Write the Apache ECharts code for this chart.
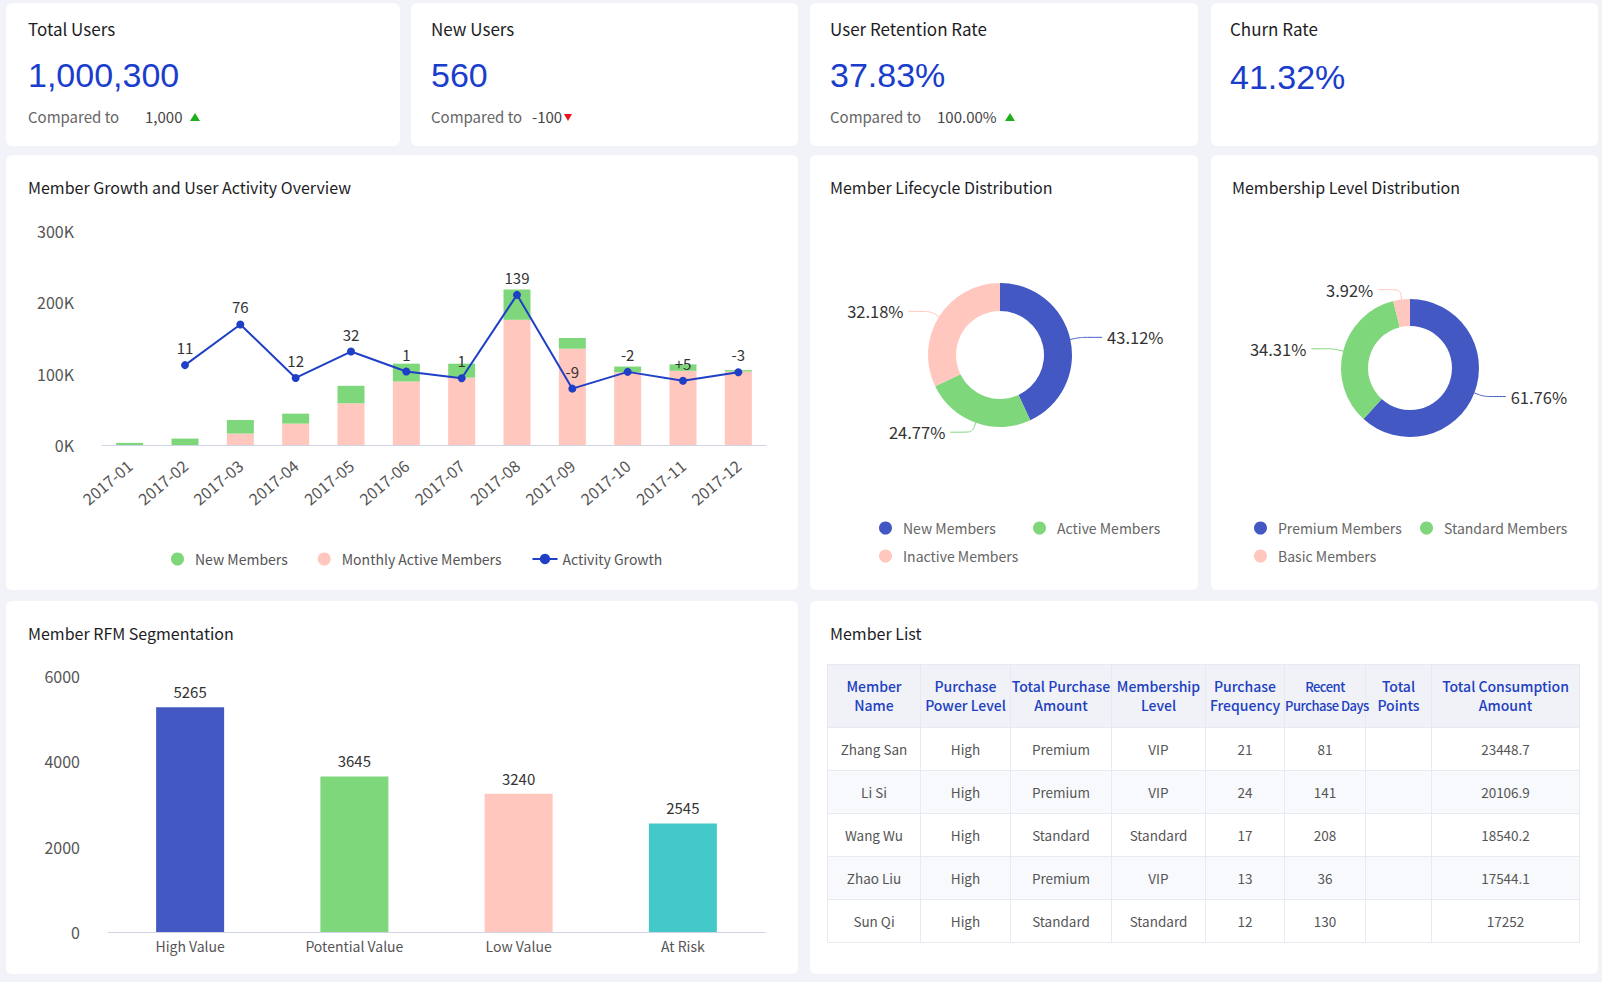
<!DOCTYPE html>
<html>
<head>
<meta charset="utf-8">
<title>Member Dashboard</title>
<script src="https://cdn.jsdelivr.net/npm/echarts/dist/echarts.min.js"></script>
<style>
  html, body { margin: 0; padding: 0; }
  body {
    width: 1602px; height: 982px; overflow: hidden;
    background: #f1f3f8;
    font-family: "Noto Sans CJK SC", "Noto Sans", sans-serif;
    position: relative;
  }
  .card { position: absolute; background: #fff; border-radius: 6px; }
  .title { position: absolute; left: 22px; top: 22px; font-size: 16px; line-height: 20px; color: #1d1d1f; }
  .chart { position: absolute; left: 0; top: 0; width: 100%; height: 100%; }
  .kpi .title { top: 16px; font-size: 17px; }
  .kpi .num {
    position: absolute; left: 22px; top: 51px;
    font-family: "Liberation Sans", Arial, sans-serif; font-size: 34px; line-height: 42px;
    color: #1a3dcc;
  }
  .kpi .cmp { position: absolute; left: 22px; top: 104px; font-size: 15px; line-height: 20px; color: #666; }
  .kpi .cv { position: absolute; top: 104px; font-size: 15px; line-height: 20px; color: #444; white-space: nowrap; }
  .up, .down { display: inline-block; width: 0; height: 0; vertical-align: 2px; }
  .up { border-left: 5px solid transparent; border-right: 5px solid transparent; border-bottom: 8px solid #1cb01c; margin-left: 8px; }
  .down { border-left: 4px solid transparent; border-right: 4px solid transparent; border-top: 7px solid #e8141b; margin-left: 2px; }
  table {
    position: absolute; left: 17px; top: 63px; width: 752px;
    border-collapse: collapse; table-layout: fixed;
    font-size: 13.5px; color: #555;
  }
  th, td { border: 1px solid #e8eaf1; text-align: center; padding: 0; }
  th { background: #f0f2f8; color: #2140c0; font-weight: 500; height: 62px; line-height: 19px; font-size: 14px; }
  td { height: 42px; }
  tbody tr:nth-child(even) td { background: #f8f9fc; }
  th.tight { font-size: 13px; letter-spacing: -0.5px; white-space: nowrap; }
</style>
</head>
<body>

<div class="card kpi" style="left:6px; top:3px; width:394px; height:143px;">
  <div class="title">Total Users</div>
  <div class="num">1,000,300</div>
  <div class="cmp">Compared to</div>
  <div class="cv" style="left:139px;">1,000<i class="up"></i></div>
</div>
<div class="card kpi" style="left:411px; top:3px; width:387px; height:143px;">
  <div class="title" style="left:20px;">New Users</div>
  <div class="num" style="left:20px;">560</div>
  <div class="cmp" style="left:20px;">Compared to</div>
  <div class="cv" style="left:121px;">-100<i class="down"></i></div>
</div>
<div class="card kpi" style="left:810px; top:3px; width:388px; height:143px;">
  <div class="title" style="left:20px;">User Retention Rate</div>
  <div class="num" style="left:20px;">37.83%</div>
  <div class="cmp" style="left:20px;">Compared to</div>
  <div class="cv" style="left:127px;">100.00%<i class="up"></i></div>
</div>
<div class="card kpi" style="left:1211px; top:3px; width:387px; height:143px;">
  <div class="title" style="left:19px;">Churn Rate</div>
  <div class="num" style="left:19px; top:53px;">41.32%</div>
</div>

<div class="card" style="left:6px; top:155px; width:792px; height:435px;">
  <div id="growth" class="chart"></div>
  <div class="title">Member Growth and User Activity Overview</div>
</div>
<div class="card" style="left:810px; top:155px; width:388px; height:435px;">
  <div id="lifecycle" class="chart"></div>
  <div class="title" style="left:20px;">Member Lifecycle Distribution</div>
</div>
<div class="card" style="left:1211px; top:155px; width:387px; height:435px;">
  <div id="level" class="chart"></div>
  <div class="title" style="left:21px;">Membership Level Distribution</div>
</div>

<div class="card" style="left:6px; top:601px; width:792px; height:373px;">
  <div id="rfm" class="chart"></div>
  <div class="title">Member RFM Segmentation</div>
</div>
<div class="card" style="left:810px; top:601px; width:788px; height:373px;">
  <div class="title" style="left:20px;">Member List</div>
  <table id="memberTable">
    <colgroup>
      <col style="width:93px"><col style="width:90px"><col style="width:101px"><col style="width:94px">
      <col style="width:79px"><col style="width:81px"><col style="width:66px"><col style="width:148px">
    </colgroup>
    <thead><tr id="tableHead"></tr></thead>
    <tbody id="tableBody"></tbody>
  </table>
</div>

<script>
// growth chart
var months = ['2017-01', '2017-02', '2017-03', '2017-04', '2017-05', '2017-06',
  '2017-07', '2017-08', '2017-09', '2017-10', '2017-11', '2017-12'];
var monthlyActive = [0, 0, 16000, 30000, 58500, 89000, 94500, 175500, 135000, 102000, 104000, 103000];
var newMembers = [3000, 9000, 19000, 14000, 24500, 25000, 19500, 42500, 15000, 8000, 9000, 2000];
var growthValues = [null, 112000, 169000, 94000, 131000, 103000, 93500, 210500, 79000, 102500, 90000, 102000];
var growthLabels = ['', '11', '76', '12', '32', '1', '1', '139', '-9', '-2', '+5', '-3'];
var growthTicks = [0, 100000, 200000, 300000];

// pies
var lifecycleNames = ['New Members', 'Active Members', 'Inactive Members'];
var lifecycleValues = [43.12, 24.77, 32.18];
var levelNames = ['Premium Members', 'Standard Members', 'Basic Members'];
var levelValues = [61.76, 34.31, 3.92];

// rfm
var rfmNames = ['High Value', 'Potential Value', 'Low Value', 'At Risk'];
var rfmValues = [5265, 3645, 3240, 2545];
var rfmTicks = [0, 2000, 4000, 6000];

// member list
var tableHeaders = ['Member<br>Name', 'Purchase<br>Power Level', 'Total Purchase<br>Amount', 'Membership<br>Level',
  'Purchase<br>Frequency', 'Recent<br>Purchase Days', 'Total<br>Points', 'Total Consumption<br>Amount'];
var memberNames = ['Zhang San', 'Li Si', 'Wang Wu', 'Zhao Liu', 'Sun Qi'];
var powerLevels = ['High', 'High', 'High', 'High', 'High'];
var purchaseAmounts = ['Premium', 'Premium', 'Standard', 'Premium', 'Standard'];
var memberLevels = ['VIP', 'VIP', 'Standard', 'VIP', 'Standard'];
var frequencies = [21, 24, 17, 13, 12];
var recentDays = [81, 141, 208, 36, 130];
var totalPoints = ['', '', '', '', ''];
var consumption = ['23448.7', '20106.9', '18540.2', '17544.1', '17252'];

var BLUE = '#4358c3', GREEN = '#7fd77c', PINK = '#ffc7bd', TEAL = '#45c9c8';
var FONT = '"Noto Sans CJK SC", "Noto Sans", sans-serif';
var AXIS = '#cfd5e2';

// table
var head = document.getElementById('tableHead');
tableHeaders.forEach(function (h, i) {
  var th = document.createElement('th');
  th.innerHTML = h;
  if (i === 5) th.className = 'tight';
  head.appendChild(th);
});
var body = document.getElementById('tableBody');
memberNames.forEach(function (n, i) {
  var tr = document.createElement('tr');
  [n, powerLevels[i], purchaseAmounts[i], memberLevels[i], frequencies[i], recentDays[i], totalPoints[i], consumption[i]]
    .forEach(function (v) {
      var td = document.createElement('td');
      td.textContent = v;
      tr.appendChild(td);
    });
  body.appendChild(tr);
});

// first section
var chart1 = echarts.init(document.getElementById('growth'), null, { renderer: 'svg' });
chart1.setOption({
  animation: false,
  textStyle: { fontFamily: FONT },
  legend: {
    data: [
      { name: 'New Members', icon: 'circle' },
      { name: 'Monthly Active Members', icon: 'circle' },
      { name: 'Activity Growth' }
    ],
    left: 160, top: 392, itemGap: 30, itemHeight: 13,
    textStyle: { fontSize: 14, color: '#555' }
  },
  grid: { left: 96, right: 32, top: 76, bottom: 145 },
  xAxis: {
    type: 'category',
    data: months,
    axisLine: { lineStyle: { color: AXIS } },
    axisTick: { length: 8, lineStyle: { color: AXIS } },
    axisLabel: { rotate: 40, color: '#555', fontSize: 16, margin: 18 }
  },
  yAxis: {
    type: 'value',
    min: growthTicks[0], max: growthTicks[growthTicks.length - 1], interval: growthTicks[1] - growthTicks[0],
    axisLine: { show: false }, axisTick: { show: false }, splitLine: { show: false },
    axisLabel: { color: '#555', fontSize: 16, margin: 28, formatter: function (v) { return v / 1000 + 'K'; } }
  },
  series: [{
    name: 'Monthly Active Members', type: 'bar', stack: 'members',
    barWidth: 27, data: monthlyActive, itemStyle: { color: PINK }
  }, {
    name: 'New Members', type: 'bar', stack: 'members',
    barWidth: 27, data: newMembers, itemStyle: { color: GREEN }
  }, {
    name: 'Activity Growth', type: 'line', data: growthValues,
    symbol: 'circle', symbolSize: 8,
    lineStyle: { width: 2, color: '#1f3fc6' }, itemStyle: { color: '#1f3fc6' },
    label: {
      show: true, position: 'top', distance: 6, color: '#333', fontSize: 15,
      formatter: function (p) { return growthLabels[p.dataIndex]; }
    }
  }]
});

// one legend per slice, so the two-column layout matches
function pieOption(names, values, center, radius, legendSpots) {
  var colors = [BLUE, GREEN, PINK];
  return {
    animation: false,
    textStyle: { fontFamily: FONT },
    legend: names.map(function (n, i) {
      return {
        data: [n], icon: 'circle', itemHeight: 13,
        left: legendSpots[i][0], top: legendSpots[i][1],
        textStyle: { fontSize: 14, color: '#666' }
      };
    }),
    series: [{
      type: 'pie', center: center, radius: radius, startAngle: 90,
      label: { formatter: '{c}%', fontSize: 16.5, color: '#333' },
      labelLine: { length: 10, length2: 22, smooth: true },
      data: names.map(function (n, i) {
        return { name: n, value: values[i], itemStyle: { color: colors[i] } };
      })
    }]
  };
}

var chart2 = echarts.init(document.getElementById('lifecycle'), null, { renderer: 'svg' });
chart2.setOption(pieOption(lifecycleNames, lifecycleValues, [190, 200], [44, 72],
  [[64, 361], [218, 361], [64, 389]]));

var chart3 = echarts.init(document.getElementById('level'), null, { renderer: 'svg' });
chart3.setOption(pieOption(levelNames, levelValues, [199, 213], [42, 69],
  [[38, 361], [204, 361], [38, 389]]));

// rfm bars
var rfmColors = [BLUE, GREEN, PINK, TEAL];
var chart4 = echarts.init(document.getElementById('rfm'), null, { renderer: 'svg' });
chart4.setOption({
  animation: false,
  textStyle: { fontFamily: FONT },
  grid: { left: 102, right: 33, top: 75, bottom: 42 },
  xAxis: {
    type: 'category', data: rfmNames,
    axisLine: { lineStyle: { color: AXIS } },
    axisTick: { length: 10, lineStyle: { color: AXIS } },
    axisLabel: { color: '#555', fontSize: 14, margin: 7 }
  },
  yAxis: {
    type: 'value', min: rfmTicks[0], max: rfmTicks[rfmTicks.length - 1], interval: rfmTicks[1] - rfmTicks[0],
    axisLine: { show: false }, axisTick: { show: false }, splitLine: { show: false },
    axisLabel: { color: '#555', fontSize: 16, margin: 28, formatter: function (v) { return String(v); } }
  },
  series: [{
    type: 'bar', barWidth: 68,
    label: { show: true, position: 'top', distance: 8, color: '#333', fontSize: 15 },
    data: rfmValues.map(function (v, i) { return { value: v, itemStyle: { color: rfmColors[i] } }; })
  }]
});
</script>
</body>
</html>
